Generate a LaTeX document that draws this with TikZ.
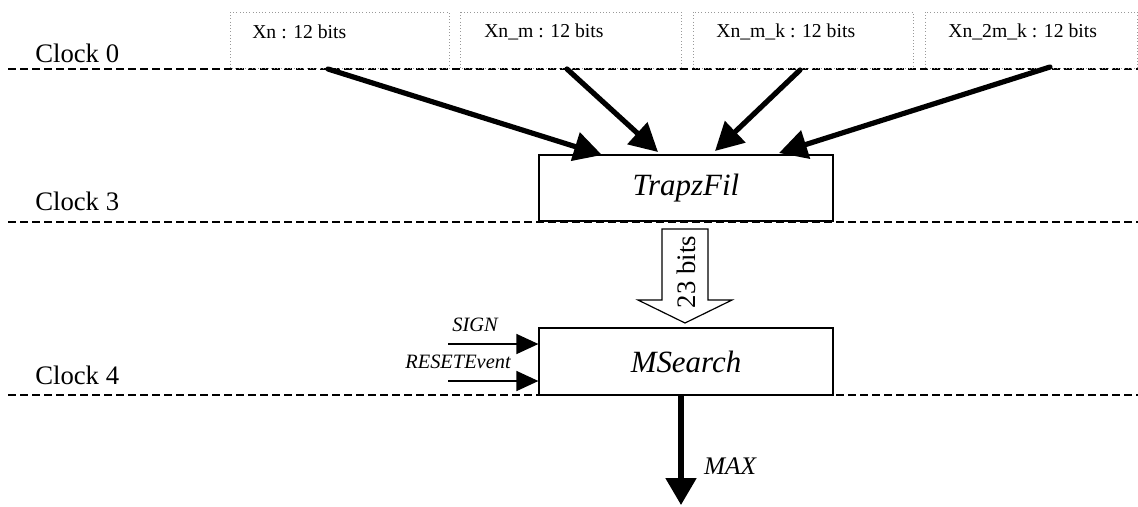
\documentclass[tikz,border=0pt]{standalone}
\usepackage{fontspec}
\setmainfont{Liberation Serif}
\usetikzlibrary{arrows.meta}
\tikzset{
	clockline/.style={dash pattern=on 2mm off 1mm, line width=0.5mm},
	clocktext/.style={anchor=west, inner sep=0pt, font=\fontsize{19}{22}\selectfont},
	inbox/.style={dotted, line width=0.3pt, color=black!40},
	intext/.style={anchor=west, inner sep=0pt, font=\fontsize{14}{16}\selectfont},
	block/.style={draw, line width=0.3mm, minimum width=73.5mm, inner sep=0pt, font=\fontsize{22}{26}\selectfont\itshape},
	fatarrow/.style={line width=1.3mm, line cap=round, -{Triangle[length=7mm, width=7.2mm]}},
	sigarrow/.style={line width=0.35mm, -{Triangle[length=5.5mm, width=5mm]}},
	sigtext/.style={inner sep=0pt, font=\fontsize{14.5}{17}\selectfont\itshape}
}

\begin{document}
\begin{tikzpicture}[x=0.25mm, y=-0.25mm]
	%%%%% START %%%%%
	\useasboundingbox (0, 0) rectangle (1138, 506);
	
	% clock lines
	\draw[clockline] (8, 69) -- (1138, 69);
	\draw[clockline] (8, 222) -- (1138, 222);
	\draw[clockline] (8, 395) -- (1138, 395);
	\node[clocktext] (clk0) at (35, 53) {Clock 0};
	\node[clocktext] (clk3) at (35, 201) {Clock 3};
	\node[clocktext] (clk4) at (35, 375) {Clock 4};
	
	% inputs
	\draw[inbox] (230, 12) rectangle (449, 68);
	\draw[inbox] (460, 12) rectangle (681, 68);
	\draw[inbox] (693, 12) rectangle (913, 68);
	\draw[inbox] (925, 12) rectangle (1137, 68);
	\node[intext] (xn) at (252, 32) {Xn : 12 bits};
	\node[intext] (xnm) at (484, 32) {Xn\_m : 12 bits};
	\node[intext] (xnmk) at (716, 32) {Xn\_m\_k : 12 bits};
	\node[intext] (xn2mk) at (948, 32) {Xn\_2m\_k : 12 bits};
	
	% blocks
	\node[block, minimum height=16.5mm] (trapz) at (686, 188) {TrapzFil};
	\node[block, minimum height=16.75mm] (msearch) at (686, 361.5) {MSearch};
	
	\coordinate (a1) at (328, 69);
	\coordinate (a2) at (567, 69);
	\coordinate (a3) at (800, 70);
	\coordinate (a4) at (1050, 67);
	\coordinate (b1) at (602, 155);
	\coordinate (b2) at (658, 152);
	\coordinate (b3) at (715, 151);
	\coordinate (b4) at (779, 153);
	\draw[fatarrow] (a1) -- (b1);
	\draw[fatarrow] (a2) -- (b2);
	\draw[fatarrow] (a3) -- (b3);
	\draw[fatarrow] (a4) -- (b4);
	
	% 23 bits bus
	\draw[line width=0.3mm, fill=white] (662, 229) -- (708, 229) -- (708, 300) -- (732, 300) -- (685, 323) -- (638, 300) -- (662, 300) -- cycle;
	\node[rotate=90, inner sep=0pt, font=\fontsize{19}{22}\selectfont] (bus) at (686, 272) {23 bits};
	
	% control inputs
	\coordinate (sign) at (448, 344);
	\coordinate (reset) at (448, 381);
	\draw[sigarrow] (sign) -- (msearch.west |- sign);
	\draw[sigarrow] (reset) -- (msearch.west |- reset);
	\node[sigtext] (signt) at (475, 325) {SIGN};
	\node[sigtext] (resett) at (458, 362) {RESETEvent};
	
	% output
	\coordinate (maxa) at (681, 395);
	\coordinate (maxb) at (681, 505);
	\draw[line width=1.3mm, -{Triangle[length=6.75mm, width=7.5mm]}] (maxa) -- (maxb);
	\node[inner sep=0pt, font=\fontsize{18}{21}\selectfont\itshape] (max) at (730, 466) {MAX};
	
	%%%%% END %%%%%
\end{tikzpicture}
\end{document}
